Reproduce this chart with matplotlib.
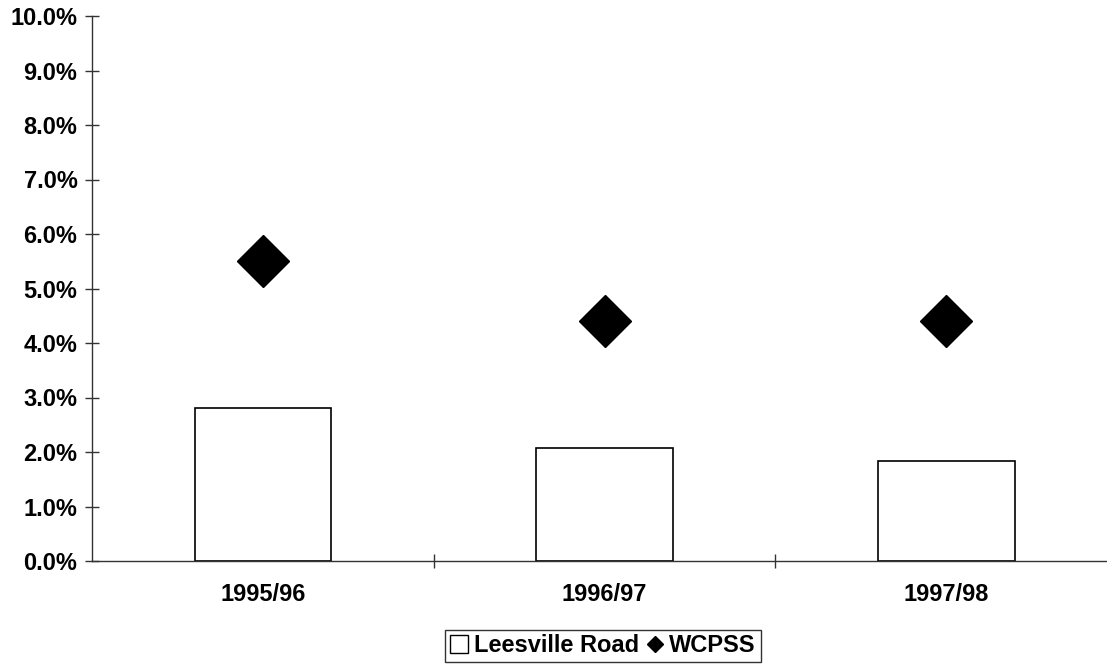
import matplotlib
matplotlib.use("Agg")
import matplotlib.pyplot as plt
import numpy as np
from matplotlib.lines import Line2D
from matplotlib.patches import Patch
from matplotlib.ticker import PercentFormatter

years = ["1995/96", "1996/97", "1997/98"]
leesville_road = [2.81, 2.07, 1.84]
wcpss = [5.50, 4.40, 4.40]

plt.rcParams["font.family"] = ["Liberation Sans", "DejaVu Sans"]
plt.rcParams["font.weight"] = "bold"

fig = plt.figure(figsize=(11.07, 6.65), dpi=100)
ax = fig.add_axes([92 / 1107, 1 - 561 / 665, 1025 / 1107, 545 / 665])

x = np.arange(len(years))
ax.bar(x, leesville_road, width=0.4, color="white", edgecolor="black", linewidth=1.2, zorder=2)
ax.plot(x, wcpss, linestyle="none", marker="D", markersize=26.5, color="black", zorder=3)

ax.set_xlim(-0.5, len(years) - 0.5)
ax.set_ylim(0, 10)
ax.set_yticks(np.arange(0, 10.1, 1))
ax.yaxis.set_major_formatter(PercentFormatter(decimals=1))
ax.set_xticks(x)
ax.set_xticklabels(years)
# category separators on the x axis
ax.set_xticks(np.arange(0.5, len(years) - 0.5, 1), minor=True)

for side in ("top", "right"):
    ax.spines[side].set_visible(False)
for side in ("left", "bottom"):
    ax.spines[side].set_color("#333333")
    ax.spines[side].set_linewidth(1.0)

ax.tick_params(axis="y", direction="inout", length=10, width=1.0, color="#333333",
               labelsize=17, pad=5.5)
ax.tick_params(axis="x", which="major", length=0, labelsize=17, pad=16)
ax.tick_params(axis="x", which="minor", direction="inout", length=10, width=1.0, color="#333333")

handles = [
    Patch(facecolor="white", edgecolor="black", linewidth=1.0),
    Line2D([], [], linestyle="none", marker="D", markersize=8.5, color="black"),
]
leg = fig.legend(handles, ["Leesville Road", "WCPSS"], loc="center", bbox_to_anchor=(603 / 1107, 1 - 646 / 665),
                 ncol=2, frameon=True, fancybox=False, fontsize=17, handlelength=0.75, handleheight=0.8,
                 handletextpad=0.25, columnspacing=0.3, borderpad=0.2, borderaxespad=0)
leg.get_frame().set_edgecolor("black")
leg.get_frame().set_linewidth(1.0)

fig.savefig("out.png", dpi=100)
